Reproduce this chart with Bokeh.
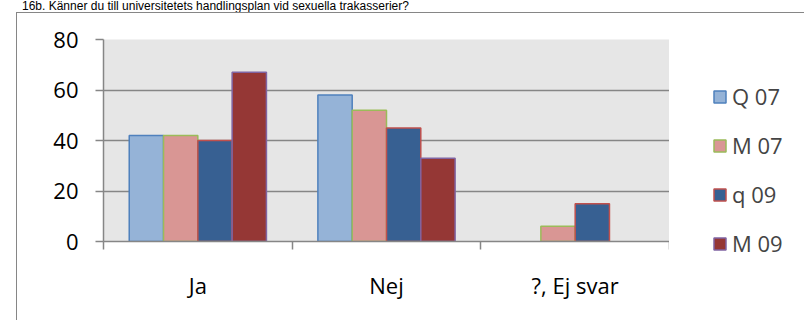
from bokeh.plotting import figure
from bokeh.models import (ColumnDataSource, Range1d, FixedTicker, Legend, LegendItem,
                          Div, InlineStyleSheet)
from bokeh.layouts import column, row
from bokeh.embed import file_html
from bokeh.resources import INLINE

title_text = "16b. Känner du till universitetets handlingsplan vid sexuella trakasserier?"
categories = ["Ja", "Nej", "?, Ej svar"]
series_names = ["Q 07", "M 07", "q 09", "M 09"]
q07 = [42, 58, 0]
m07 = [42, 52, 6]
q09 = [40, 45, 15]
m09 = [67, 33, 0]
y_ticks = [0, 20, 40, 60, 80]

fill_colors = ["#95B3D7", "#D99694", "#376092", "#953735"]
line_colors = ["#4F81BD", "#9BBB59", "#C0504D", "#8064A2"]

FONT = "Open Sans"
GRID = "#868686"

# ---- title strip ----
title_div = Div(text=f'<span style="margin-left:22px;white-space:nowrap">{title_text}</span>',
                width=804, height=12, margin=0,
                styles={"font-family": "Liberation Sans", "font-size": "12px",
                        "line-height": "12px", "color": "#000000"})

# ---- main chart ----
p = figure(width=669, height=308, output_backend="svg", toolbar_location=None,
           x_range=Range1d(0, len(categories)), y_range=Range1d(0, y_ticks[-1]),
           min_border_left=103, min_border_right=0, min_border_top=27,
           min_border_bottom=79, margin=0)
p.frame_align = False
p.background_fill_color = "#E6E6E6"
p.border_fill_color = "white"
p.outline_line_color = None
p.stylesheets = [InlineStyleSheet(css=(
    ":host{position:relative;}"
    ":host::after{content:'';position:absolute;left:16px;top:0;right:0;bottom:0;"
    "border-left:1.5px solid #868686;border-top:1.5px solid #868686;"
    "pointer-events:none;}"))]

bar_w = 1 / 5.5
for k, vals in enumerate([q07, m07, q09, m09]):
    xs = [i + 0.5 + (k - 1.5) * bar_w for i, v in enumerate(vals) if v > 0]
    tops = [v for v in vals if v > 0]
    src = ColumnDataSource(dict(x=xs, top=tops))
    p.vbar(x="x", top="top", bottom=0, width=bar_w, source=src,
           fill_color=fill_colors[k], line_color=line_colors[k], line_width=1.5)

p.xgrid.visible = False
p.ygrid.ticker = FixedTicker(ticks=y_ticks)
p.ygrid.grid_line_color = GRID
p.ygrid.grid_line_width = 1.5

ya = p.yaxis[0]
ya.ticker = FixedTicker(ticks=y_ticks)
ya.axis_line_color = GRID
ya.axis_line_width = 1.5
ya.major_tick_line_color = GRID
ya.major_tick_line_width = 1.5
ya.major_tick_out = 8
ya.major_tick_in = 0
ya.minor_tick_line_color = None
ya.major_label_standoff = 17
ya.major_label_text_font = FONT
ya.major_label_text_font_size = "22px"
ya.major_label_text_color = "#000000"

centers = [i + 0.5 for i in range(len(categories))]
bounds = [float(i) for i in range(len(categories) + 1)]
xa = p.xaxis[0]
xa.ticker = FixedTicker(ticks=centers, minor_ticks=bounds)
xa.major_label_overrides = {c: lab for c, lab in zip(centers, categories)}
xa.axis_line_color = GRID
xa.axis_line_width = 1.5
xa.major_tick_line_color = None
xa.minor_tick_line_color = GRID
xa.minor_tick_line_width = 1.5
xa.minor_tick_out = 8
xa.minor_tick_in = 0
xa.major_label_standoff = 20
xa.major_label_text_font = FONT
xa.major_label_text_font_size = "22px"
xa.major_label_text_color = "#000000"

# ---- legend panel (proxy glyphs with no drawable position) ----
pl = figure(width=135, height=308, output_backend="svg", toolbar_location=None,
            x_range=Range1d(0, 1), y_range=Range1d(0, 1),
            x_axis_type=None, y_axis_type=None,
            min_border_left=0, min_border_right=0, min_border_top=0,
            min_border_bottom=0, margin=0)
pl.frame_align = False
pl.grid.visible = False
pl.outline_line_color = None
pl.background_fill_color = "white"
pl.border_fill_color = "white"
pl.stylesheets = [InlineStyleSheet(css=(
    ":host{position:relative;}"
    ":host::after{content:'';position:absolute;left:0;top:0;right:0;height:0;"
    "border-top:1.5px solid #868686;pointer-events:none;}"))]

nan = float("nan")
items = []
for k, name in enumerate(series_names):
    proxy = ColumnDataSource(dict(x=[nan], top=[nan]))
    r = pl.vbar(x="x", top="top", bottom=0, width=0.1, source=proxy,
                fill_color=fill_colors[k], line_color=line_colors[k], line_width=1.5)
    items.append(LegendItem(label=name, renderers=[r]))

legend = Legend(items=items, location=(43, 62), orientation="vertical",
                glyph_width=15, glyph_height=15, label_standoff=5, spacing=19,
                padding=0, margin=0, border_line_color=None,
                background_fill_alpha=0, label_text_font=FONT,
                label_text_font_size="22px", label_height=15)
pl.add_layout(legend, "center")

layout = column(title_div, row(p, pl, spacing=0, margin=0), spacing=0, margin=0)

open("out.html", "w").write(file_html(layout, INLINE))
